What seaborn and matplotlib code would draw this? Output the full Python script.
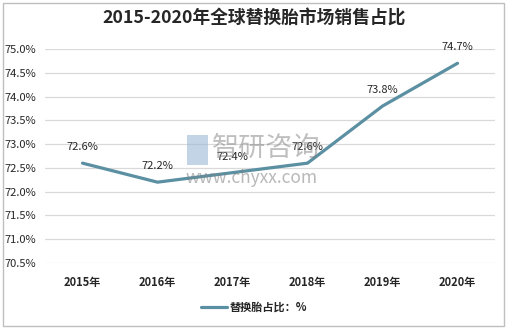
import matplotlib
matplotlib.use("Agg")
import matplotlib.pyplot as plt
import seaborn as sns
import pandas as pd
from matplotlib.patches import Rectangle

years = ["2015年", "2016年", "2017年", "2018年", "2019年", "2020年"]
share = [72.6, 72.2, 72.4, 72.6, 73.8, 74.7]
y_ticks = [70.5, 71.0, 71.5, 72.0, 72.5, 73.0, 73.5, 74.0, 74.5, 75.0]
series_name = "替换胎占比：%"
title = "2015-2020年全球替换胎市场销售占比"

sns.set_theme(style="white")
plt.rcParams["font.family"] = ["Noto Sans CJK SC", "DejaVu Sans"]

df = pd.DataFrame({"year": years, "share": share})
df["x"] = range(len(df))

fig = plt.figure(figsize=(5.08, 3.29), dpi=100)
fig.patch.set_facecolor("white")
fig.patches.append(Rectangle((0.005, 0.008), 0.988, 0.984, transform=fig.transFigure,
                             fill=False, edgecolor="#BFBFBF", linewidth=1.0))

ax = fig.add_axes([0.0886, 0.2006, 0.8858, 0.6504])
line_color = "#5B8FA2"
sns.lineplot(data=df, x="x", y="share", ax=ax, color=line_color, linewidth=2.3,
             label=series_name, legend=False)

ax.set_xlim(-0.5, len(years) - 0.5)
ax.set_ylim(y_ticks[0], y_ticks[-1])
ax.set_yticks(y_ticks)
ax.set_yticklabels([f"{v:.1f}%" for v in y_ticks], fontsize=8, color="#262626")
ax.set_xticks(df["x"])
ax.set_xticklabels(years, fontsize=8, fontweight="bold", color="#262626")
ax.tick_params(axis="both", length=0)
ax.tick_params(axis="y", pad=6.5)
ax.tick_params(axis="x", pad=9)
ax.set_xlabel("")
ax.set_ylabel("")
for s in ax.spines.values():
    s.set_visible(False)
ax.grid(axis="y", color="#D9D9D9", linewidth=0.9)
ax.set_axisbelow(True)

for xi, v in zip(df["x"], df["share"]):
    ax.annotate(f"{v:.1f}%", (xi, v), xytext=(0, 11.5), textcoords="offset points",
                ha="center", va="center", fontsize=8, color="#262626")

fig.text(0.5, 0.945, title, ha="center", va="center", fontsize=12.8,
         fontweight="bold", color="#262626")

# watermark
fig.text(0.418, 0.548, "智研咨询", ha="left", va="center", fontsize=19.5,
         color="#7F7F7F", alpha=0.5)
fig.text(0.366, 0.46, "www.chyxx.com", ha="left", va="center", fontsize=12.5,
         color="#7F7F7F", alpha=0.55)
fig.patches.append(Rectangle((0.368, 0.50), 0.042, 0.09, transform=fig.transFigure,
                             facecolor="#9BB8D8", edgecolor="none", alpha=0.6))

handles, labels = ax.get_legend_handles_labels()
leg = fig.legend(handles, labels, loc="center", bbox_to_anchor=(0.5, 0.065),
                 frameon=False, fontsize=8, handlelength=2.4, handletextpad=0.2)
for t in leg.get_texts():
    t.set_fontweight("bold")
    t.set_color("#262626")

fig.savefig("out.png", dpi=100)
